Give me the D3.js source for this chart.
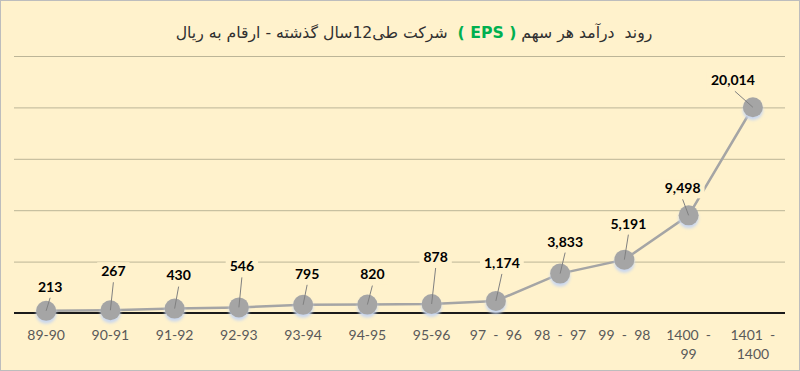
<!DOCTYPE html>
<html>
<head>
<meta charset="utf-8">
<script src="https://cdn.jsdelivr.net/npm/d3@7/dist/d3.min.js"></script>
<style>
  html, body { margin: 0; padding: 0; background: #fff; }
  svg { display: block; }
</style>
</head>
<body>
<script>
// ---- data ----
const categories = ["89-90", "90-91", "91-92", "92-93", "93-94", "94-95", "95-96",
  "97  -  96", "98  -  97", "99  -  98", "1400  -|99", "1401  -|1400"];
const epsValues = [213, 267, 430, 546, 795, 820, 878, 1174, 3833, 5191, 9498, 20014];
const yTicks = [0, 5000, 10000, 15000, 20000, 25000];
const titleParts = ["روند  درآمد هر سهم ", "( EPS )", "  شرکت طی12سال گذشته - ارقام به ریال"];
// label placement (layout only): offset of each data label from its point
const labelDx = [4, 3, 4, 3, 4, 5, 4, 6, 5, 4, -6, -20];
const labelDy = [-24, -39, -33, -41, -31, -30, -47, -38, -32, -36, -27, -27];

const W = 800, H = 371;
const svg = d3.select("body").append("svg").attr("width", W).attr("height", H);

const defs = svg.append("defs");
const f = defs.append("filter").attr("id", "blur").attr("x", "-50%").attr("y", "-50%").attr("width", "200%").attr("height", "200%");
f.append("feGaussianBlur").attr("stdDeviation", 1.6);

svg.append("rect").attr("x", 0.5).attr("y", 0.5).attr("width", W - 1).attr("height", H - 1)
  .attr("fill", "#fff2cc").attr("stroke", "#bdbdbd");

const plotL = 14, plotR = 785, plotT = 56, plotB = 313;
const x = d3.scaleBand().domain(categories).range([plotL, plotR]).padding(0);
const y = d3.scaleLinear().domain([0, 25000]).range([plotB, plotT]);

// gridlines
const yAxis = d3.axisLeft(y).tickValues(yTicks.slice(1)).tickSize(-(plotR - plotL)).tickFormat("");
const gy = svg.append("g").attr("transform", `translate(${plotL},0)`).call(yAxis);
gy.select(".domain").remove();
gy.selectAll(".tick line").attr("stroke", "#bcb597").attr("stroke-width", 1);

// x axis
const xAxis = d3.axisBottom(x).tickSize(0).tickPadding(0);
const gx = svg.append("g").attr("transform", `translate(0,${plotB})`).call(xAxis);
gx.select(".domain").attr("stroke", "#1a1a1a").attr("stroke-width", 2).attr("d", `M${plotL},0H${plotR}`);
gx.selectAll(".tick text").each(function(d) {
  const t = d3.select(this);
  t.text(null).attr("y", 0).attr("dy", null)
    .attr("font-family", "Lato, 'Open Sans', sans-serif").attr("font-size", 14)
    .attr("fill", "#595959").attr("text-anchor", "middle").style("white-space", "pre");
  d.split("|").forEach((line, i) => {
    t.append("tspan").attr("x", 0).attr("y", 27 + i * 19).text(line);
  });
});

const cx = (d, i) => x(categories[i]) + x.bandwidth() / 2;
const cy = d => y(d);

// series line
svg.append("path").datum(epsValues)
  .attr("d", d3.line().x((d, i) => cx(d, i)).y(d => cy(d)))
  .attr("fill", "none").attr("stroke", "#a5a5a5").attr("stroke-width", 2.5);

// shadows
svg.append("g").selectAll("circle").data(epsValues).join("circle")
  .attr("cx", (d, i) => cx(d, i)).attr("cy", d => cy(d) + 3).attr("r", 10)
  .attr("fill", "#c9d7ef").attr("filter", "url(#blur)");

// markers
svg.append("g").selectAll("circle").data(epsValues).join("circle")
  .attr("cx", (d, i) => cx(d, i)).attr("cy", d => cy(d)).attr("r", 10)
  .attr("fill", "#a5a5a5");

// leader lines
svg.append("g").selectAll("line").data(epsValues).join("line")
  .attr("x1", (d, i) => cx(d, i) + labelDx[i] + (labelDx[i] < -10 ? 2 : 0))
  .attr("y1", (d, i) => cy(d) + labelDy[i] + 11)
  .attr("x2", (d, i) => cx(d, i)).attr("y2", d => cy(d))
  .attr("stroke", "#808080").attr("stroke-width", 1);

// data labels with background boxes
const fmt = d3.format(",");
const lg = svg.append("g").selectAll("g").data(epsValues).join("g")
  .attr("transform", (d, i) => `translate(${cx(d, i) + labelDx[i]},${cy(d) + labelDy[i]})`);
const lt = lg.append("text").text(d => fmt(d))
  .attr("text-anchor", "middle").attr("dy", "0.35em")
  .attr("font-family", "Lato, 'Open Sans', sans-serif").attr("font-weight", "bold")
  .attr("font-size", 14).attr("fill", "#000");
lt.each(function() {
  const b = this.getBBox();
  d3.select(this.parentNode).insert("rect", "text")
    .attr("x", b.x - 4).attr("y", -9).attr("width", b.width + 8).attr("height", 19)
    .attr("fill", "#fff2cc");
});

// title
const title = svg.append("text")
  .attr("x", 414).attr("y", 38).attr("text-anchor", "middle")
  .attr("direction", "rtl")
  .attr("font-family", "'DejaVu Sans', sans-serif").attr("font-size", 15.7)
  .attr("fill", "#303030").style("white-space", "pre");
titleParts.forEach((p, i) => {
  title.append("tspan").text(p)
    .attr("fill", i === 1 ? "#00b050" : "#303030")
    .attr("font-weight", i === 1 ? "bold" : "normal");
});
</script>
</body>
</html>
